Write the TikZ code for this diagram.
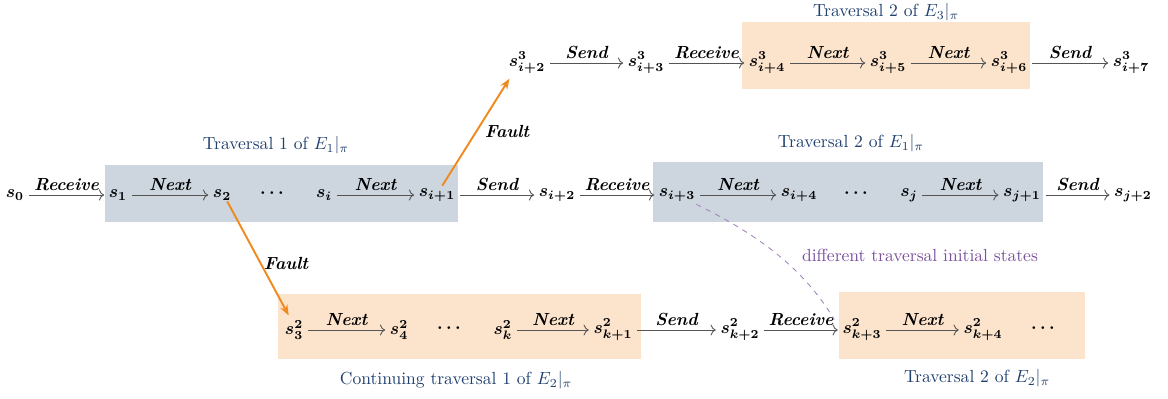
\documentclass[tikz,border=0pt]{standalone}
\usetikzlibrary{arrows.meta}
\definecolor{boxgray}{HTML}{CDD6DF}
\definecolor{boxorange}{HTML}{FCE4CC}
\definecolor{faultorange}{HTML}{F08A1E}
\definecolor{titleblue}{HTML}{1F3F6E}
\definecolor{notepurple}{HTML}{7A4F9E}
\definecolor{arrgray}{HTML}{555555}
\begin{document}
\begin{tikzpicture}[x=0.57pt,y=-0.57pt,
  st/.style={inner sep=2.5pt,font=\boldmath},
  arr/.style={-{To[length=3pt]},arrgray,line width=0.5pt},
  lab/.style={above,font=\bfseries\itshape,inner sep=2pt,black},
  flab/.style={black,font=\bfseries\itshape},
  fault/.style={-{Stealth[length=6pt]},faultorange,line width=1.1pt},
  ttl/.style={text=titleblue}]
\useasboundingbox (0,0) rectangle (1168,398);
% boxes
\fill[boxgray] (105,165) rectangle (458,222);
\fill[boxgray] (653,162) rectangle (1043,222);
\fill[boxorange] (742,22) rectangle (1030,89);
\fill[boxorange] (278,294) rectangle (641,359);
\fill[boxorange] (839,292) rectangle (1085,359);
% titles
\node[ttl] (t1) at (276,145) {Traversal 1 of $E_1|_\pi$};
\node[ttl] (t2) at (851,143) {Traversal 2 of $E_1|_\pi$};
\node[ttl,inner sep=1pt] (t3) at (886,12) {Traversal 2 of $E_3|_\pi$};
\node[ttl] (t4) at (456,380) {Continuing traversal 1 of $E_2|_\pi$};
\node[ttl] (t5) at (977,378) {Traversal 2 of $E_2|_\pi$};
% main row
\node[st] (s0) at (15,195) {$s_0$};
\node[st] (s1) at (118,195) {$s_1$};
\node[st] (s2) at (222,195) {$s_2$};
\node[st] (d1) at (272,193) {$\cdots$};
\node[st] (si) at (324,195) {$s_i$};
\node[st] (si1) at (437,195) {$s_{i+1}$};
\node[st] (si2) at (557,195) {$s_{i+2}$};
\node[st] (si3) at (677,195) {$s_{i+3}$};
\node[st] (si4) at (799,195) {$s_{i+4}$};
\node[st] (d2) at (856,193) {$\cdots$};
\node[st] (sj) at (909,195) {$s_j$};
\node[st] (sj1) at (1022,195) {$s_{j+1}$};
\node[st] (sj2) at (1133,195) {$s_{j+2}$};
\draw[arr] (s0) -- node[lab] {Receive} (s1);
\draw[arr] (s1) -- node[lab] {Next} (s2);
\draw[arr] (si) -- node[lab] {Next} (si1);
\draw[arr] (si1) -- node[lab] {Send} (si2);
\draw[arr] (si2) -- node[lab] {Receive} (si3);
\draw[arr] (si3) -- node[lab] {Next} (si4);
\draw[arr] (sj) -- node[lab] {Next} (sj1);
\draw[arr] (sj1) -- node[lab] {Send} (sj2);
% top row
\node[st] (u2) at (527,63) {$s^3_{i+2}$};
\node[st] (u3) at (646,63) {$s^3_{i+3}$};
\node[st] (u4) at (767,63) {$s^3_{i+4}$};
\node[st] (u5) at (888,63) {$s^3_{i+5}$};
\node[st] (u6) at (1009,63) {$s^3_{i+6}$};
\node[st] (u7) at (1131,63) {$s^3_{i+7}$};
\draw[arr] (u2) -- node[lab] {Send} (u3);
\draw[arr] (u3) -- node[lab] {Receive} (u4);
\draw[arr] (u4) -- node[lab] {Next} (u5);
\draw[arr] (u5) -- node[lab] {Next} (u6);
\draw[arr] (u6) -- node[lab] {Send} (u7);
% bottom row
\node[st] (v3) at (294,330) {$s^2_3$};
\node[st] (v4) at (399,330) {$s^2_4$};
\node[st] (d3) at (449,328) {$\cdots$};
\node[st] (vk) at (503,330) {$s^2_k$};
\node[st] (vk1) at (613,330) {$s^2_{k+1}$};
\node[st] (vk2) at (740,330) {$s^2_{k+2}$};
\node[st] (vk3) at (862,330) {$s^2_{k+3}$};
\node[st] (vk4) at (983,330) {$s^2_{k+4}$};
\node[st] (d4) at (1043,328) {$\cdots$};
\draw[arr] (v3) -- node[lab] {Next} (v4);
\draw[arr] (vk) -- node[lab] {Next} (vk1);
\draw[arr] (vk1) -- node[lab] {Send} (vk2);
\draw[arr] (vk2) -- node[lab] {Receive} (vk3);
\draw[arr] (vk3) -- node[lab] {Next} (vk4);
% faults
\coordinate (f1a) at ([xshift=3pt,yshift=-1pt]si1.north);
\coordinate (f1b) at ([xshift=3pt]u2.south west);
\draw[fault] (f1a) -- (f1b);
\node[flab] (fl1) at (507,131) {Fault};
\coordinate (f2a) at ([xshift=3pt,yshift=2pt]s2.south);
\coordinate (f2b) at ([xshift=-3pt]v3.north);
\draw[fault] (f2a) -- (f2b);
\node[flab] (fl2) at (286,263) {Fault};
% dashed
\draw[notepurple!70,dashed,line width=0.5pt] ([xshift=-2pt,yshift=1pt]si3.south east) .. controls (748,230) and (800,262) .. ([xshift=-2pt,yshift=-3pt]vk3.north west);
\node[text=notepurple] (note) at (920,255) {different traversal initial states};
\end{tikzpicture}
\end{document}
